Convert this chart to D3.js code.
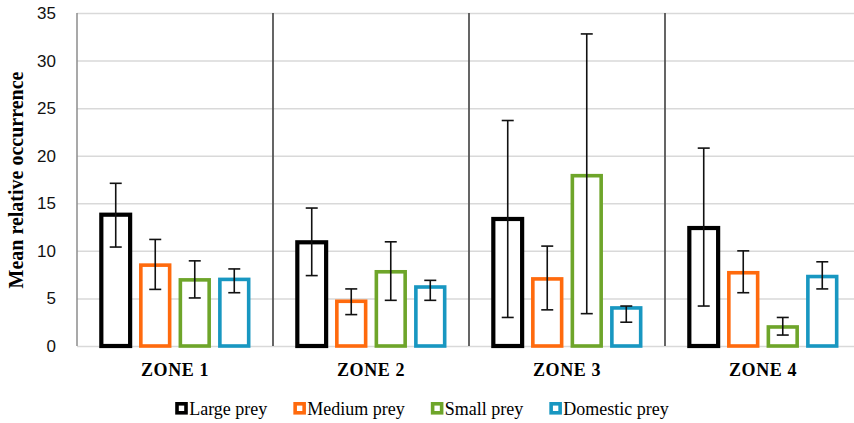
<html>
    <head>
        <script src="https://cdn.jsdelivr.net/npm/d3@7"></script>
        <style>
            body { margin: 0; background: white; }
            .gridlines line { stroke: #d9d9d9; stroke-width: 1.5; }
            .gridlines .domain { stroke: none; }
        </style>
    </head>
    <body>
        <div id="chart"></div>
        <script>
            // values
            const zones = ["ZONE 1", "ZONE 2", "ZONE 3", "ZONE 4"];
            const seriesNames = ["Large prey", "Medium prey", "Small prey", "Domestic prey"];
            const seriesColors = ["#000000", "#ff6a0d", "#6ea52a", "#1897c1"];

            const largeMean = [13.8, 10.9, 13.35, 12.4];
            const mediumMean = [8.5, 4.7, 7.05, 7.7];
            const smallMean = [6.95, 7.8, 17.9, 2.0];
            const domesticMean = [7.0, 6.2, 4.0, 7.3];

            // error bar ends (low / high)
            const largeLow = [10.4, 7.4, 3.0, 4.2];
            const largeHigh = [17.1, 14.5, 23.7, 20.8];
            const mediumLow = [5.95, 3.3, 3.8, 5.6];
            const mediumHigh = [11.2, 6.0, 10.5, 10.0];
            const smallLow = [5.05, 4.8, 3.4, 1.15];
            const smallHigh = [8.95, 10.95, 32.8, 3.0];
            const domesticLow = [5.6, 4.8, 2.5, 6.0];
            const domesticHigh = [8.1, 6.9, 4.2, 8.85];

            const yTicks = [0, 5, 10, 15, 20, 25, 30, 35];

            const means = [largeMean, mediumMean, smallMean, domesticMean];
            const lows = [largeLow, mediumLow, smallLow, domesticLow];
            const highs = [largeHigh, mediumHigh, smallHigh, domesticHigh];

            let data = [];
            zones.forEach((z, zi) => {
                seriesNames.forEach((s, si) => {
                    data.push({zone: z, series: s, color: seriesColors[si],
                               mean: means[si][zi], low: lows[si][zi], high: highs[si][zi]});
                });
            });

            const width = 854;
            const height = 423;
            const margins = {top: 13, right: -7, bottom: 77, left: 77};
            const chartWidth = width - margins.left - margins.right;
            const chartHeight = height - margins.top - margins.bottom;

            let svg = d3.select("#chart").append("svg")
                        .attr("width", width)
                        .attr("height", height);

            let chartArea = svg.append("g")
                               .attr("transform", `translate(${margins.left}, ${margins.top})`);

            let xScale = d3.scaleBand().domain(zones).range([0, chartWidth]).padding(0);
            let xInner = d3.scaleBand().domain(seriesNames)
                           .range([0, xScale.bandwidth()])
                           .paddingInner(0.18)
                           .paddingOuter(0.57);
            let yScale = d3.scaleLinear().domain([0, 35]).range([chartHeight, 0]);

            // gridlines
            let gridlines = d3.axisLeft(yScale).tickValues(yTicks).tickFormat("").tickSize(-chartWidth);
            chartArea.append("g")
                     .attr("class", "gridlines")
                     .call(gridlines);

            // y tick labels
            let leftAxis = d3.axisLeft(yScale).tickValues(yTicks).tickSize(0).tickPadding(21);
            let yAxisG = chartArea.append("g").call(leftAxis);
            yAxisG.select(".domain").remove();
            yAxisG.selectAll("text")
                  .style("font-family", "'Liberation Sans', Arial, sans-serif")
                  .style("font-size", "17px")
                  .style("fill", "#111");

            // left axis line and zone separators
            chartArea.append("line")
                     .attr("x1", 0).attr("x2", 0)
                     .attr("y1", 0).attr("y2", chartHeight)
                     .attr("stroke", "#8c8c8c")
                     .attr("stroke-width", 1.5);
            chartArea.selectAll("line.sep").data(zones.slice(1))
                     .join("line")
                     .attr("class", "sep")
                     .attr("x1", d => xScale(d)).attr("x2", d => xScale(d))
                     .attr("y1", 0).attr("y2", chartHeight)
                     .attr("stroke", "#555")
                     .attr("stroke-width", 1.8);

            // bars
            const sw = 3.6;
            chartArea.selectAll("rect.bar").data(data)
                     .join("rect")
                     .attr("class", "bar")
                     .attr("x", d => xScale(d.zone) + xInner(d.series) + sw / 2)
                     .attr("y", d => yScale(d.mean))
                     .attr("width", xInner.bandwidth() - sw)
                     .attr("height", d => chartHeight - yScale(d.mean))
                     .attr("fill", "white")
                     .attr("stroke", d => d.color)
                     .attr("stroke-width", d => d.series == "Large prey" ? 4.2 : sw);

            // error bars
            const cap = 6;
            let errG = chartArea.selectAll("g.err").data(data)
                                .join("g")
                                .attr("class", "err")
                                .attr("transform", d => `translate(${xScale(d.zone) + xInner(d.series) + xInner.bandwidth() / 2}, 0)`)
                                .attr("stroke", "#111")
                                .attr("stroke-width", 1.6);
            errG.append("line")
                .attr("x1", 0).attr("x2", 0)
                .attr("y1", d => yScale(d.low)).attr("y2", d => yScale(d.high));
            errG.append("line")
                .attr("x1", -cap).attr("x2", cap)
                .attr("y1", d => yScale(d.low)).attr("y2", d => yScale(d.low));
            errG.append("line")
                .attr("x1", -cap).attr("x2", cap)
                .attr("y1", d => yScale(d.high)).attr("y2", d => yScale(d.high));

            // zone labels
            chartArea.selectAll("text.zone").data(zones)
                     .join("text")
                     .attr("class", "zone")
                     .attr("x", d => xScale(d) + xScale.bandwidth() / 2)
                     .attr("y", chartHeight + 30)
                     .attr("text-anchor", "middle")
                     .style("font-family", "'Liberation Serif', 'Times New Roman', serif")
                     .style("font-weight", "bold")
                     .style("font-size", "18px")
                     .style("letter-spacing", "0.6px")
                     .text(d => d);

            // y axis title
            svg.append("text")
               .attr("transform", `translate(23, 180) rotate(-90)`)
               .attr("text-anchor", "middle")
               .style("font-family", "'Liberation Serif', 'Times New Roman', serif")
               .style("font-weight", "bold")
               .style("font-size", "20px")
               .text("Mean relative occurrence");

            // legend, laid out left to right then centred
            let legend = svg.append("g");
            let xPos = 0;
            seriesNames.forEach((s, i) => {
                let item = legend.append("g").attr("transform", `translate(${xPos}, 0)`);
                item.append("rect")
                    .attr("x", 1.8).attr("y", -11.2)
                    .attr("width", 9).attr("height", 9)
                    .attr("fill", "white")
                    .attr("stroke", seriesColors[i])
                    .attr("stroke-width", 3.6);
                let t = item.append("text")
                            .attr("x", 14)
                            .attr("y", 0)
                            .style("font-family", "'Liberation Serif', 'Times New Roman', serif")
                            .style("font-size", "18px")
                            .text(s);
                xPos += 14 + t.node().getComputedTextLength() + 26;
            });
            let legendWidth = xPos - 26;
            legend.attr("transform", `translate(${422 - legendWidth / 2}, 415)`);
        </script>
    </body>
</html>
